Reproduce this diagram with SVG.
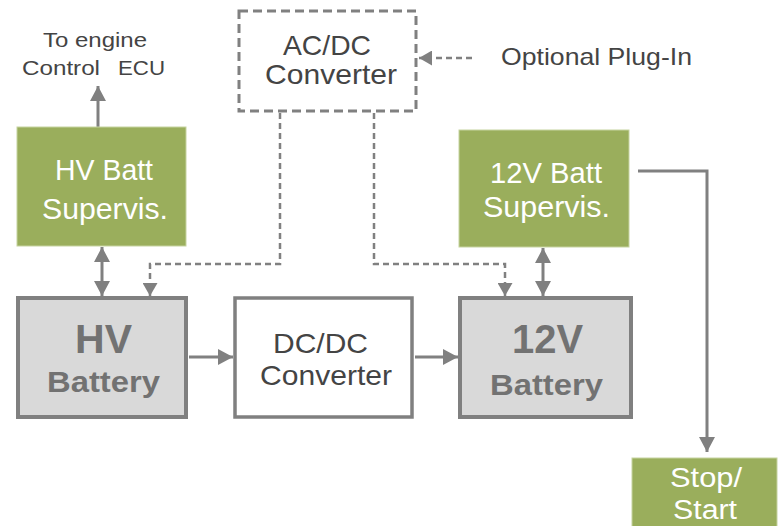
<svg xmlns="http://www.w3.org/2000/svg" width="783" height="526" viewBox="0 0 783 526">
<style>
text{font-family:"Liberation Sans",Arial,sans-serif;text-anchor:middle}
.dark{fill:#444444}
.wht{fill:#ffffff}
.bat{fill:#727272;font-weight:bold}
.green{fill:#9aae5c;stroke:#c6d3a0;stroke-width:1}
.batbox{fill:#d9d9d9;stroke:#808080;stroke-width:4}
.conv{fill:#ffffff;stroke:#808080;stroke-width:3.5}
.dbox{fill:#ffffff;stroke:#808080;stroke-width:3;stroke-dasharray:9 5}
.ln{fill:none;stroke:#808080;stroke-width:3}
.dl{fill:none;stroke:#808080;stroke-width:2.5;stroke-dasharray:6 4}
</style>
<defs>
<marker id="ah" viewBox="0 0 15 16" refX="15" refY="8" markerWidth="15" markerHeight="16" markerUnits="userSpaceOnUse" orient="auto-start-reverse">
<path d="M0,0 L15,8 L0,16 z" fill="#808080"/>
</marker>
<marker id="ahs" viewBox="0 0 13 15" refX="13" refY="7.5" markerWidth="13" markerHeight="15" markerUnits="userSpaceOnUse" orient="auto">
<path d="M0,0 L13,7.5 L0,15 z" fill="#808080"/>
</marker>
</defs>
<rect width="783" height="526" fill="#ffffff"/>

<g id="connectors">
<path class="ln" d="M98,127 V86" marker-end="url(#ah)"/>
<path class="ln" d="M102,247 V296" marker-start="url(#ah)" marker-end="url(#ah)"/>
<path class="ln" d="M543,248 V296" marker-start="url(#ah)" marker-end="url(#ah)"/>
<path class="ln" d="M189,357 H233" marker-end="url(#ah)"/>
<path class="ln" d="M415,357 H458" marker-end="url(#ah)"/>
<path class="ln" d="M638,171 H707 V452" marker-end="url(#ah)"/>
<path class="dl" d="M280,113 V264 H150 V296" marker-end="url(#ahs)"/>
<path class="dl" d="M374,113 V264 H505 V296" marker-end="url(#ahs)"/>
<path class="dl" d="M472,58 H419" marker-end="url(#ahs)"/>
</g>

<g id="to-engine">
<text class="dark" x="95" y="47" font-size="20" textLength="104" lengthAdjust="spacingAndGlyphs">To engine</text>
<text class="dark" x="61" y="75" font-size="20" textLength="78" lengthAdjust="spacingAndGlyphs">Control</text>
<text class="dark" x="141.5" y="75" font-size="20" textLength="47" lengthAdjust="spacingAndGlyphs">ECU</text>
</g>

<g id="acdc">
<rect class="dbox" x="239" y="11" width="177" height="100"/>
<text class="dark" x="327" y="55" font-size="28" textLength="88" lengthAdjust="spacingAndGlyphs">AC/DC</text>
<text class="dark" x="331" y="84" font-size="28" textLength="132" lengthAdjust="spacingAndGlyphs">Converter</text>
</g>

<g id="plug-in">
<text class="dark" x="596.5" y="65" font-size="24" textLength="191" lengthAdjust="spacingAndGlyphs">Optional Plug-In</text>
</g>

<g id="hv-supervis">
<rect class="green" x="17" y="127" width="169" height="119"/>
<text class="wht" x="104" y="180" font-size="30" textLength="98" lengthAdjust="spacingAndGlyphs">HV Batt</text>
<text class="wht" x="105" y="219" font-size="30" textLength="126" lengthAdjust="spacingAndGlyphs">Supervis.</text>
</g>

<g id="v12-supervis">
<rect class="green" x="459" y="130" width="170" height="117"/>
<text class="wht" x="546" y="183" font-size="30" textLength="112" lengthAdjust="spacingAndGlyphs">12V Batt</text>
<text class="wht" x="546.5" y="217" font-size="30" textLength="127" lengthAdjust="spacingAndGlyphs">Supervis.</text>
</g>

<g id="hv-battery">
<rect class="batbox" x="18" y="298" width="168" height="119"/>
<text class="bat" x="103.5" y="353" font-size="40" textLength="57" lengthAdjust="spacingAndGlyphs">HV</text>
<text class="bat" x="103.5" y="392" font-size="29" textLength="113" lengthAdjust="spacingAndGlyphs">Battery</text>
</g>

<g id="dcdc">
<rect class="conv" x="235" y="298" width="177" height="119"/>
<text class="dark" x="320.5" y="353" font-size="28" textLength="95" lengthAdjust="spacingAndGlyphs">DC/DC</text>
<text class="dark" x="326" y="385" font-size="28" textLength="132" lengthAdjust="spacingAndGlyphs">Converter</text>
</g>

<g id="v12-battery">
<rect class="batbox" x="460" y="298" width="171" height="119"/>
<text class="bat" x="547.5" y="353" font-size="40" textLength="71" lengthAdjust="spacingAndGlyphs">12V</text>
<text class="bat" x="546.5" y="395" font-size="29" textLength="113" lengthAdjust="spacingAndGlyphs">Battery</text>
</g>

<g id="stop-start">
<rect class="green" x="632" y="458" width="145" height="75"/>
<text class="wht" x="706" y="487" font-size="28" textLength="72" lengthAdjust="spacingAndGlyphs">Stop/</text>
<text class="wht" x="705" y="519" font-size="27" textLength="64" lengthAdjust="spacingAndGlyphs">Start</text>
</g>
</svg>
